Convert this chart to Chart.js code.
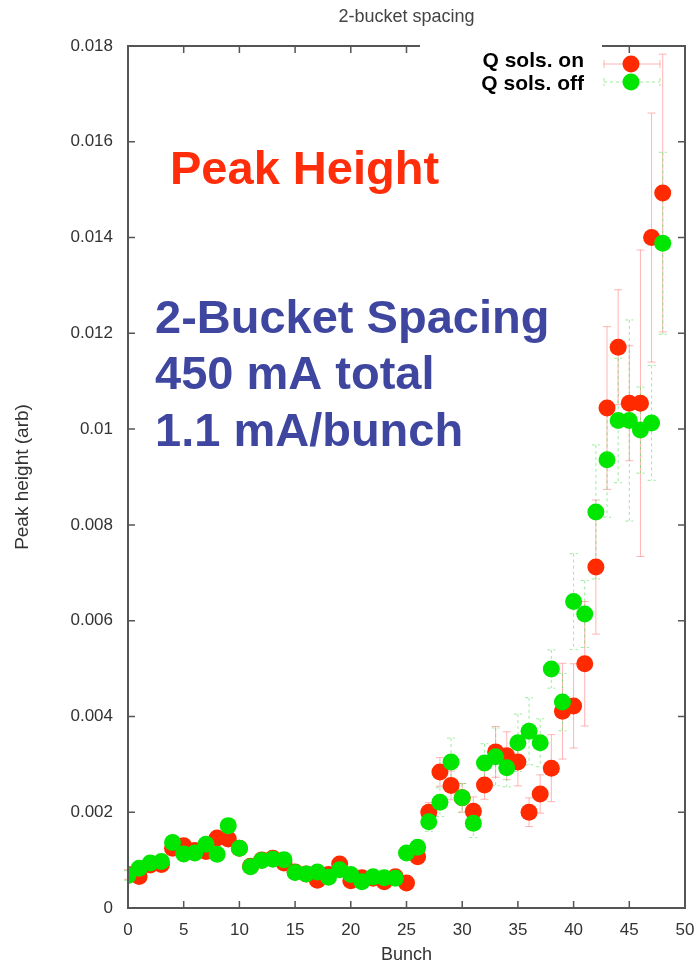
<!DOCTYPE html>
<html lang="en">
<head>
<meta charset="UTF-8">
<title>2-bucket spacing</title>
<script src="https://cdn.jsdelivr.net/npm/chart.js@4"></script>
<style>
  body { margin: 0; background: #fff; }
  #peakChart { display: block; }
</style>
</head>
<body>
<canvas id="peakChart" width="696" height="966"></canvas>
<script>
// bunch index along the train
const bunches = [0, 1, 2, 3, 4, 5, 6, 7, 8, 9, 10, 11, 12, 13, 14, 15, 16, 17, 18, 19, 20, 21, 22, 23, 24,
                 25, 26, 27, 28, 29, 30, 31, 32, 33, 34, 35, 36, 37, 38, 39, 40, 41, 42, 43, 44, 45, 46, 47, 48];

// peak height with Q solenoids on, and its error
const peakOn = [0.00070, 0.00066, 0.00090, 0.00091, 0.00125, 0.00130, 0.00120, 0.00118, 0.00146, 0.00144,
                0.00125, 0.00087, 0.00100, 0.00104, 0.00094, 0.00075, 0.00071, 0.00058, 0.00070, 0.00092,
                0.00057, 0.00063, 0.00062, 0.00055, 0.00065, 0.00052, 0.00107, 0.00200, 0.00284, 0.00256,
                0.00230, 0.00202, 0.00257, 0.00326, 0.00318, 0.00305, 0.00200, 0.00238, 0.00292, 0.00411,
                0.00422, 0.00510, 0.00712, 0.01044, 0.01171, 0.01054, 0.01054, 0.01400, 0.01493];
const errOn = [0.0001, 0.0001, 0.0001, 0.0001, 0.0001, 0.0001, 0.0001, 0.0001, 0.0001, 0.0001,
               0.0001, 0.0001, 0.0001, 0.0001, 0.0001, 0.0001, 0.0001, 0.0001, 0.0001, 0.0001,
               0.0001, 0.0001, 0.0001, 0.0001, 0.0001, 0.0001, 0.0001, 0.0002, 0.0003, 0.0003,
               0.0003, 0.0003, 0.0003, 0.00053, 0.0005, 0.0005, 0.0003, 0.0004, 0.0007, 0.0010,
               0.00088, 0.0013, 0.0014, 0.0017, 0.0012, 0.0012, 0.0032, 0.0026, 0.0029];

// peak height with Q solenoids off, and its error
const peakOff = [0.00068, 0.00083, 0.00094, 0.00097, 0.00137, 0.00113, 0.00115, 0.00133, 0.00112, 0.00172,
                 0.00125, 0.00086, 0.00099, 0.00102, 0.00101, 0.00074, 0.00071, 0.00075, 0.00064, 0.00080,
                 0.00070, 0.00055, 0.00065, 0.00063, 0.00062, 0.00115, 0.00127, 0.00180, 0.00221, 0.00305,
                 0.00230, 0.00177, 0.00303, 0.00316, 0.00293, 0.00345, 0.00369, 0.00345, 0.00499, 0.00430,
                 0.00640, 0.00614, 0.00827, 0.00936, 0.01018, 0.01018, 0.00998, 0.01013, 0.01388];
const errOff = [0.0001, 0.0001, 0.0001, 0.0001, 0.0001, 0.0001, 0.0001, 0.0001, 0.0001, 0.0001,
                0.0001, 0.0001, 0.0001, 0.0001, 0.0001, 0.0001, 0.0001, 0.0001, 0.0001, 0.0001,
                0.0001, 0.0001, 0.0001, 0.0001, 0.0001, 0.0001, 0.0001, 0.0002, 0.0003, 0.0005,
                0.0003, 0.0003, 0.0004, 0.0006, 0.0004, 0.0006, 0.0007, 0.0005, 0.0004, 0.0006,
                0.0010, 0.0007, 0.0014, 0.0012, 0.0013, 0.0021, 0.0009, 0.0012, 0.0019];

const xTicks = [0, 5, 10, 15, 20, 25, 30, 35, 40, 45, 50];
const yTicks = [0, 0.002, 0.004, 0.006, 0.008, 0.01, 0.012, 0.014, 0.016, 0.018];

const FONT = '"Liberation Sans", Arial, Helvetica, sans-serif';
const RED = '#ff2a00';
const GREEN = '#00e600';

function points(vals) {
  return bunches.map((b, i) => ({ x: b, y: vals[i] }));
}

// vertical error bars, drawn under the markers
const errorBars = {
  id: 'errorBars',
  beforeDatasetsDraw(chart) {
    const { ctx, scales: { x, y } } = chart;
    ctx.save();
    chart.data.datasets.forEach(ds => {
      ctx.strokeStyle = ds.errColor;
      ctx.lineWidth = 1;
      ctx.setLineDash(ds.errDash);
      ds.data.forEach((p, i) => {
        const px = x.getPixelForValue(p.x);
        const top = y.getPixelForValue(p.y + ds.err[i]);
        const bot = y.getPixelForValue(p.y - ds.err[i]);
        ctx.beginPath();
        ctx.moveTo(px, top); ctx.lineTo(px, bot);
        ctx.moveTo(px - 4, top); ctx.lineTo(px + 4, top);
        ctx.moveTo(px - 4, bot); ctx.lineTo(px + 4, bot);
        ctx.stroke();
      });
    });
    ctx.restore();
  }
};

// gnuplot-style box with inward ticks, key, title and notes
const decorations = {
  id: 'decorations',
  afterDatasetsDraw(chart) {
    const { ctx, chartArea: a, scales: { x, y } } = chart;
    ctx.save();

    ctx.strokeStyle = '#555';
    ctx.lineWidth = 2;
    ctx.strokeRect(a.left, a.top, a.right - a.left, a.bottom - a.top);
    ctx.lineWidth = 1.5;
    ctx.beginPath();
    xTicks.forEach(v => {
      const px = x.getPixelForValue(v);
      ctx.moveTo(px, a.bottom); ctx.lineTo(px, a.bottom - 7);
      ctx.moveTo(px, a.top); ctx.lineTo(px, a.top + 7);
    });
    yTicks.forEach(v => {
      const py = y.getPixelForValue(v);
      ctx.moveTo(a.left, py); ctx.lineTo(a.left + 7, py);
      ctx.moveTo(a.right, py); ctx.lineTo(a.right - 7, py);
    });
    ctx.stroke();

    // key
    ctx.fillStyle = '#fff';
    ctx.fillRect(420, 40, 182, 58);
    ctx.font = 'bold 21px ' + FONT;
    ctx.textAlign = 'right';
    ctx.textBaseline = 'middle';
    chart.data.datasets.forEach((ds, i) => {
      const ky = 64 + i * 18;
      ctx.fillStyle = '#000';
      ctx.fillText(ds.label, 584, 61 + i * 23);
      ctx.strokeStyle = ds.errColor;
      ctx.lineWidth = 1;
      ctx.setLineDash(ds.errDash);
      ctx.beginPath();
      ctx.moveTo(604, ky); ctx.lineTo(660, ky);
      ctx.moveTo(604, ky - 4); ctx.lineTo(604, ky + 4);
      ctx.moveTo(660, ky - 4); ctx.lineTo(660, ky + 4);
      ctx.stroke();
      ctx.setLineDash([]);
      ctx.fillStyle = ds.backgroundColor;
      ctx.beginPath();
      ctx.arc(631, ky, 8.5, 0, Math.PI * 2);
      ctx.fill();
    });

    // title
    ctx.fillStyle = '#444';
    ctx.font = '18px ' + FONT;
    ctx.textAlign = 'center';
    ctx.fillText('2-bucket spacing', (a.left + a.right) / 2, 17);

    // notes
    ctx.textAlign = 'left';
    ctx.textBaseline = 'alphabetic';
    ctx.font = 'bold 47px ' + FONT;
    ctx.fillStyle = '#ff2d0a';
    ctx.fillText('Peak Height', 170, 184);
    ctx.fillStyle = '#3f46a0';
    ctx.fillText('2-Bucket Spacing', 155, 333);
    ctx.fillText('450 mA total', 155, 389);
    ctx.fillText('1.1 mA/bunch', 155, 446);

    ctx.restore();
  }
};

new Chart(document.getElementById('peakChart'), {
  type: 'scatter',
  data: {
    datasets: [{
      label: 'Q sols. on',
      data: points(peakOn),
      err: errOn,
      errColor: 'rgba(255, 130, 130, 0.6)',
      errDash: [],
      backgroundColor: RED,
      borderColor: RED,
      borderWidth: 0,
      pointRadius: 8.5,
      pointHoverRadius: 8.5,
      order: 2
    }, {
      label: 'Q sols. off',
      data: points(peakOff),
      err: errOff,
      errColor: 'rgba(90, 220, 90, 0.6)',
      errDash: [3, 3],
      backgroundColor: GREEN,
      borderColor: GREEN,
      borderWidth: 0,
      pointRadius: 8.5,
      pointHoverRadius: 8.5,
      order: 1
    }]
  },
  options: {
    responsive: false,
    animation: false,
    layout: { padding: { top: 46, right: 11, left: 0, bottom: 0 } },
    plugins: {
      legend: { display: false },
      tooltip: { enabled: false }
    },
    scales: {
      x: {
        type: 'linear',
        min: 0,
        max: 50,
        afterBuildTicks: s => { s.ticks = xTicks.map(v => ({ value: v })); },
        afterFit: s => { s.height = 58; s.paddingLeft = 0; s.paddingRight = 0; },
        grid: { display: false, drawTicks: false },
        border: { display: false },
        ticks: { padding: 12, color: '#333', font: { size: 17, family: FONT }, callback: v => String(v) },
        title: { display: true, text: 'Bunch', color: '#333', font: { size: 18, family: FONT }, padding: { top: 0, bottom: 0 } }
      },
      y: {
        min: 0,
        max: 0.018,
        afterBuildTicks: s => { s.ticks = yTicks.map(v => ({ value: v })); },
        afterFit: s => { s.width = 128; s.paddingTop = 0; s.paddingBottom = 0; },
        grid: { display: false, drawTicks: false },
        border: { display: false },
        ticks: { padding: 15, color: '#333', font: { size: 17, family: FONT }, callback: v => String(+v.toFixed(3)) },
        title: { display: true, text: 'Peak height (arb)', color: '#333', font: { size: 19, family: FONT }, padding: { top: 11, bottom: 0 } }
      }
    }
  },
  plugins: [errorBars, decorations]
});
</script>
</body>
</html>
